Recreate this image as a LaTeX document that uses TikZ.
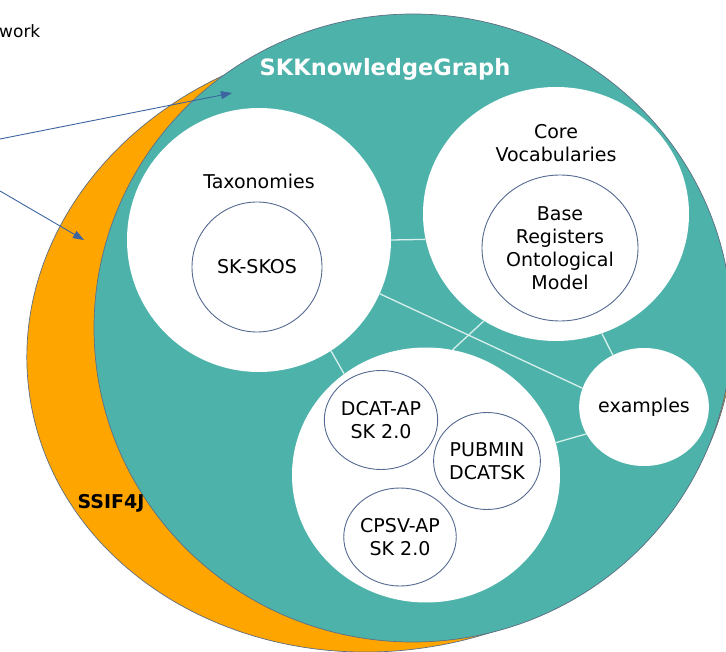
\documentclass[tikz,border=0pt]{standalone}
\usepackage{fontspec}
\setmainfont{DejaVu Sans}
\usetikzlibrary{shapes.geometric,arrows.meta}
\definecolor{tealc}{RGB}{77,178,170}
\definecolor{orangec}{RGB}{255,165,0}
\definecolor{edgec}{RGB}{95,110,130}
\definecolor{innerc}{RGB}{85,105,145}
\definecolor{arrowc}{RGB}{60,100,160}
\definecolor{linkc}{RGB}{215,240,237}
\begin{document}
\begin{tikzpicture}[x=1pt,y=-1pt,
  bigcirc/.style={ellipse, fill=white, inner sep=0pt},
  smallcirc/.style={ellipse, draw=innerc, line width=0.9pt, fill=white, inner sep=0pt, align=center, font=\fontsize{19}{23}\selectfont},
  txt/.style={align=center, font=\fontsize{19}{23}\selectfont, inner sep=0pt},
  linkline/.style={draw=linkc, line width=1.3pt},
  arrowline/.style={draw=arrowc, line width=0.9pt, -{Triangle[length=11pt,width=8pt]}},
]
\useasboundingbox (0,0) rectangle (726,652);
% SSIF4J crescent (orange), partly hidden by the teal body
\filldraw[fill=orangec, draw=edgec, line width=0.7pt, rotate around={8:(380,345)}]
  (380,345) ellipse [x radius=354, y radius=306];
% SKKnowledgeGraph body (teal)
\filldraw[fill=tealc, draw=edgec, line width=0.7pt] (413,328) ellipse [x radius=319, y radius=314];
% big white circles
\node[bigcirc, minimum width=264pt, minimum height=264pt] (tax) at (259,240) {};
\node[bigcirc, minimum width=266pt, minimum height=254pt] (core) at (556,214) {};
\node[bigcirc, minimum width=268pt, minimum height=255pt] (clu) at (426,475) {};
\node[bigcirc, minimum width=120pt, minimum height=118pt, font=\fontsize{19}{23}\selectfont] (ex) at (644,407) {examples};
% links
\draw[linkline] (tax.0) -- (core.191);
\draw[linkline] (tax.-24) -- (ex.163);
\draw[linkline] (core.236) -- (clu.78);
\draw[linkline] (core.-69) -- (ex.121);
\draw[linkline] (tax.-57) -- (clu.129);
\draw[linkline] (clu.14) -- (ex.205);
% inner circles
\node[smallcirc, minimum width=130pt, minimum height=130pt] (skos) at (257,267) {SK-SKOS};
\node[smallcirc, minimum width=156pt, minimum height=146pt] (base) at (560,248) {Base\\Registers\\Ontological\\Model};
\node[smallcirc, minimum width=100pt, minimum height=99pt] (dcat) at (381,420) {DCAT-AP\\SK 2.0};
\node[smallcirc, minimum width=101pt, minimum height=97pt] (pub) at (487,461) {PUBMIN\\DCATSK};
\node[smallcirc, minimum width=101pt, minimum height=98pt] (cpsv) at (400,537) {CPSV-AP\\SK 2.0};
% labels
\node[txt] (taxl) at (259,181) {Taxonomies};
\node[txt] (corel) at (556,143) {Core\\Vocabularies};
\node[txt, font=\fontsize{22.5}{27}\selectfont\bfseries, text=white] (skg) at (385,69) {SKKnowledgeGraph};
\node[txt, font=\fontsize{19}{23}\selectfont\bfseries] (ssif) at (111,503) {SSIF4J};
\node[txt, font=\fontsize{17}{20}\selectfont, anchor=west] (fw) at (-1,31) {work};
% pointers
\coordinate (a1) at (0,139);
\coordinate (t1) at (232,93);
\coordinate (a2) at (0,191);
\coordinate (t2) at (84,240);
\draw[arrowline] (a1) -- (t1);
\draw[arrowline] (a2) -- (t2);
\end{tikzpicture}
\end{document}
